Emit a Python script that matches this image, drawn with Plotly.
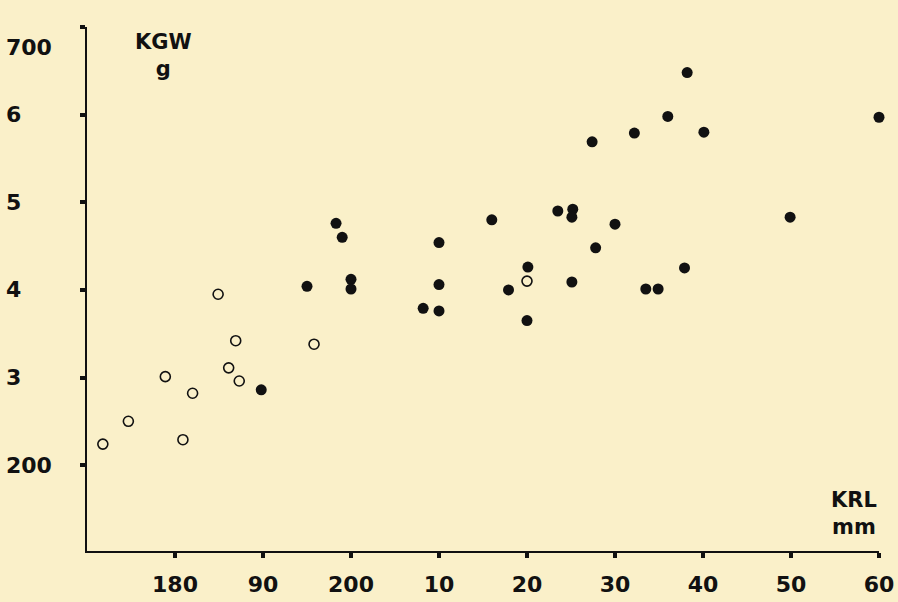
import plotly.graph_objects as go

# KRL (mm) and KGW (g) values
open_krl = [171.8, 174.7, 178.9, 180.9, 182.0, 184.9, 186.1, 186.9, 187.3, 195.8, 220.0]
open_kgw = [224, 250, 301, 229, 282, 395, 311, 342, 296, 338, 410]

filled_krl = [189.8, 195.0, 198.3, 199.0, 200.0, 200.0, 208.2, 210.0, 210.0, 210.0,
              216.0, 217.9, 220.0, 220.1, 223.5, 225.2, 225.1, 225.1, 227.4, 227.8,
              230.0, 232.2, 233.5, 234.9, 236.0, 237.9, 238.2, 240.1, 249.9, 260.0]
filled_kgw = [286, 404, 476, 460, 412, 401, 379, 454, 406, 376,
              480, 400, 365, 426, 490, 492, 483, 409, 569, 448,
              475, 579, 401, 401, 598, 425, 648, 580, 483, 597]

x_tickvals = [180, 190, 200, 210, 220, 230, 240, 250, 260]
x_ticktext = ["180", "90", "200", "10", "20", "30", "40", "50", "60"]
y_tickvals = [200, 300, 400, 500, 600, 700]
y_ticktext = ["200", "3", "4", "5", "6", "700"]

BG = "#FAF0C9"
INK = "#111111"
FONT = "DejaVu Sans, Verdana, sans-serif"

fig = go.Figure()
fig.add_trace(go.Scatter(
    x=open_krl, y=open_kgw, mode="markers",
    marker=dict(symbol="circle", size=10, color=BG, line=dict(color=INK, width=1.6)),
    cliponaxis=False, showlegend=False, hoverinfo="skip"))
fig.add_trace(go.Scatter(
    x=filled_krl, y=filled_kgw, mode="markers",
    marker=dict(symbol="circle", size=11, color=INK, line=dict(width=0)),
    cliponaxis=False, showlegend=False, hoverinfo="skip"))

fig.update_layout(
    width=898, height=602,
    paper_bgcolor=BG, plot_bgcolor=BG,
    margin=dict(l=87, r=19, t=27, b=51, autoexpand=False),
    font=dict(family=FONT, color=INK),
    xaxis=dict(range=[170, 260], tickvals=x_tickvals, ticktext=x_ticktext,
               automargin=False,
               showgrid=False, zeroline=False, showline=True, linecolor=INK, linewidth=2,
               ticks="outside", ticklen=5, tickwidth=4, tickcolor=INK,
               tickfont=dict(size=22, family=FONT, color=INK, weight="bold"),
               ticklabelstandoff=8),
    yaxis=dict(range=[102, 700], tickvals=y_tickvals, showticklabels=False,
               automargin=False,
               showgrid=False, zeroline=False, showline=True, linecolor=INK, linewidth=2,
               ticks="outside", ticklen=5, tickwidth=4, tickcolor=INK),
)

for v, t in zip(y_tickvals, y_ticktext):
    fig.add_annotation(x=0, xref="paper", y=v, yref="y", text=t, showarrow=False,
                       xanchor="left", xshift=-83, yshift=(-20 if v == 700 else 0),
                       font=dict(size=22, family=FONT, color=INK, weight="bold"))

fig.add_annotation(x=0, xref="paper", y=1, yref="paper", text="KGW<br>g",
                   showarrow=False, xanchor="center", yanchor="top",
                   xshift=76, yshift=-1, align="center",
                   font=dict(size=21, family=FONT, color=INK, weight="bold"))
fig.add_annotation(x=1, xref="paper", y=0, yref="paper", text="KRL<br>mm",
                   showarrow=False, xanchor="right", yanchor="bottom",
                   xshift=0, yshift=10, align="center",
                   font=dict(size=21, family=FONT, color=INK, weight="bold"))

fig.write_html("out.html", config={"displayModeBar": False},
               post_script="document.body.style.margin='0px';")
